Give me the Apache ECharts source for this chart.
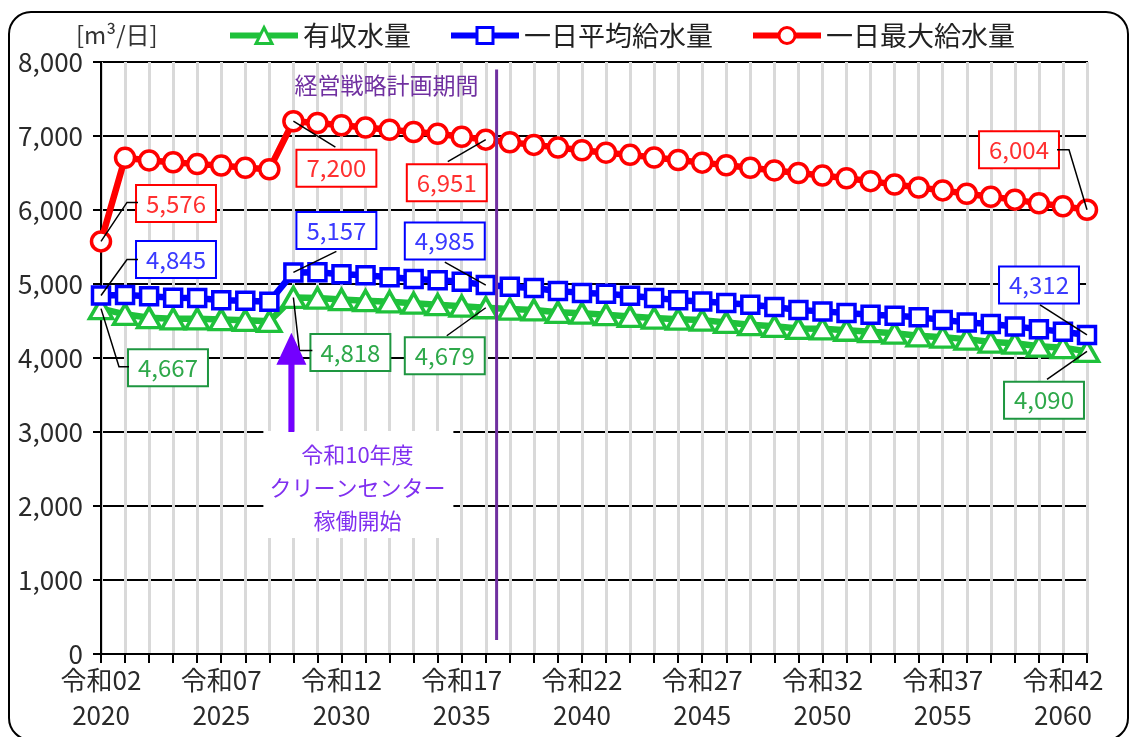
<!DOCTYPE html>
<html>
<head>
<meta charset="utf-8">
<script src="https://cdn.jsdelivr.net/npm/echarts@6/dist/echarts.min.js"></script>
<style>
  html, body { margin: 0; padding: 0; background: #fff; }
  #chart { width: 1136px; height: 737px; }
</style>
</head>
<body>
<div id="chart"></div>
<script>
// Fiscal years 2020 (令和02) to 2061 (令和43)
const years = [2020, 2021, 2022, 2023, 2024, 2025, 2026, 2027, 2028, 2029,
               2030, 2031, 2032, 2033, 2034, 2035, 2036, 2037, 2038, 2039,
               2040, 2041, 2042, 2043, 2044, 2045, 2046, 2047, 2048, 2049,
               2050, 2051, 2052, 2053, 2054, 2055, 2056, 2057, 2058, 2059,
               2060, 2061];

// 有収水量 [m3/日]
const revenueWater = [4667, 4590, 4545, 4530, 4530, 4520, 4510, 4495, 4818, 4810,
                      4790, 4775, 4760, 4740, 4720, 4700, 4679, 4662, 4650, 4618,
                      4605, 4585, 4562, 4540, 4525, 4512, 4480, 4450, 4428, 4400,
                      4395, 4375, 4355, 4335, 4300, 4282, 4255, 4215, 4200, 4160,
                      4140, 4090];

// 一日平均給水量 [m3/日]
const avgSupply = [4845, 4850, 4835, 4815, 4810, 4780, 4775, 4760, 5157, 5158,
                   5133, 5118, 5090, 5068, 5052, 5030, 4985, 4962, 4945, 4905,
                   4880, 4868, 4842, 4812, 4782, 4765, 4742, 4720, 4690, 4650,
                   4630, 4608, 4585, 4570, 4550, 4515, 4480, 4460, 4425, 4390,
                   4355, 4312];

// 一日最大給水量 [m3/日]
const maxSupply = [5576, 6705, 6670, 6645, 6620, 6600, 6570, 6550, 7200, 7175,
                   7145, 7115, 7085, 7055, 7030, 6990, 6951, 6915, 6880, 6845,
                   6808, 6775, 6745, 6710, 6675, 6640, 6605, 6570, 6535, 6500,
                   6465, 6428, 6390, 6345, 6305, 6265, 6220, 6180, 6140, 6090,
                   6050, 6004];

// y axis range
const yMin = 0, yMax = 8000, yStep = 1000;

// end of the management strategy period (between 令和18 and 令和19)
const planEndPos = 16.45;
// cleaning centre start year index (令和10)
const centreStartIdx = 8;

const FONT = '"Noto Sans CJK JP", "Noto Sans", sans-serif';
const fmt = v => Number(v).toLocaleString('en-US');

const GREEN = '#1fc13b', BLUE = '#0000ff', RED = '#ff0000';

// label box offsets (px from the point) and leader line bends
const labelCfg = {
  rev: {
    offsets: {0: [67, 59], 8: [57, 55], 16: [-41, 48], 41: [-43, 49]},
    leaders: {0: [[18, 58], [28, 58]], 8: [[6, 53], [19, 53]], 16: [[-39, 28]], 41: [[-40, 28]]}
  },
  avg: {
    offsets: {0: [75, -36], 8: [43, -42], 16: [-41, -44], 41: [-48, -50]},
    leaders: {0: [[26, -36], [37, -36]], 8: [[43, -21]], 16: [[-41, -23]], 41: [[-47, -30]]}
  },
  max: {
    offsets: {0: [75, -38], 8: [43, 47], 16: [-39, 43], 41: [-68, -60]},
    leaders: {0: [[26, -39], [37, -39]], 8: [[42, 26]], 16: [[-38, 22]], 41: [[-18, -60], [-30, -60]]}
  }
};

function makeSeries(name, data, color, symbol, symbolSize, textColor, borderColor, cfg, z) {
  return {
    name: name,
    type: 'line',
    z: z,
    data: data.map((v, i) => (i in cfg.offsets)
      ? {value: v, label: {show: true, offset: cfg.offsets[i]}}
      : v),
    symbol: symbol,
    symbolSize: symbolSize,
    showAllSymbol: true,
    lineStyle: {color: color, width: 6.5},
    itemStyle: {color: '#fff', borderColor: color, borderWidth: 3.5},
    label: {
      show: false,
      position: 'inside',
      formatter: p => fmt(p.value),
      fontSize: 24,
      lineHeight: 28,
      fontFamily: FONT,
      color: textColor,
      backgroundColor: '#fff',
      borderColor: borderColor,
      borderWidth: 2,
      padding: [4, 9, 3, 9]
    },
    emphasis: {disabled: true},
    animation: false
  };
}

const chart = echarts.init(document.getElementById('chart'));

chart.setOption({
  animation: false,
  backgroundColor: '#fff',
  textStyle: {fontFamily: FONT},
  legend: {
    left: 222,
    top: 17,
    itemWidth: 68,
    itemHeight: 20,
    itemGap: 37,
    lineStyle: {width: 6},
    itemStyle: {borderWidth: 3},
    textStyle: {fontSize: 27, color: '#222', fontFamily: FONT},
    data: ['有収水量', '一日平均給水量', '一日最大給水量']
  },
  grid: {
    left: 101, right: 49, top: 62, bottom: 83,
    show: true, borderColor: '#000', borderWidth: 2
  },
  xAxis: [{
    type: 'category',
    data: years,
    boundaryGap: false,
    axisLine: {lineStyle: {color: '#000', width: 2}},
    axisTick: {show: true, interval: 0, length: 9, lineStyle: {color: '#000', width: 2}},
    axisLabel: {
      interval: 4,
      fontSize: 26,
      lineHeight: 35,
      margin: 9,
      color: '#2a2a2a',
      fontFamily: FONT,
      formatter: v => '令和' + String(Number(v) - 2018).padStart(2, '0') + '\n' + v
    },
    splitLine: {show: true, interval: 0, lineStyle: {color: '#d9d9d9', width: 3}}
  }, {
    type: 'value',
    min: 0, max: years.length - 1,
    show: false,
    splitLine: {show: false}
  }],
  yAxis: {
    type: 'value',
    min: yMin, max: yMax, interval: yStep,
    axisLine: {show: true, lineStyle: {color: '#000', width: 2}},
    axisTick: {show: true, length: 8, lineStyle: {color: '#000', width: 2}},
    axisLabel: {fontSize: 26, margin: 18, color: '#2a2a2a', fontFamily: FONT, formatter: v => fmt(v)},
    splitLine: {show: true, lineStyle: {color: '#000', width: 2}}
  },
  series: [
    makeSeries('有収水量', revenueWater, GREEN, 'triangle', [23, 20], '#2ea84a', '#1e9640', labelCfg.rev, 3),
    makeSeries('一日平均給水量', avgSupply, BLUE, 'rect', 17, '#3a3aff', BLUE, labelCfg.avg, 4),
    makeSeries('一日最大給水量', maxSupply, RED, 'circle', 19, '#ff3030', RED, labelCfg.max, 5),
    {
      name: 'plan-end',
      type: 'line',
      xAxisIndex: 1,
      yAxisIndex: 0,
      data: [[planEndPos, 190], [planEndPos, 7900]],
      symbol: 'none',
      lineStyle: {color: '#7030a0', width: 3},
      silent: true,
      z: 6,
      animation: false
    }
  ]
});

// annotations placed from axis coordinates
const g = [];
const toPx = (i, v) => chart.convertToPixel({gridIndex: 0}, [i, v]);

// rounded outer frame
g.push({type: 'rect', silent: true, z: 20,
  shape: {x: 9, y: 12, width: 1119, height: 728, r: 22},
  style: {fill: 'none', stroke: '#000', lineWidth: 2}});

// unit
g.push({type: 'text', z: 20, x: 76, y: 35,
  style: {text: '[m³/日]', fontSize: 24, fontFamily: FONT, fill: '#333', verticalAlign: 'middle'}});

// leader lines for the value labels
[[revenueWater, labelCfg.rev], [avgSupply, labelCfg.avg], [maxSupply, labelCfg.max]].forEach(([data, cfg]) => {
  Object.keys(cfg.leaders).forEach(k => {
    const i = Number(k);
    const p = toPx(i, data[i]);
    const pts = [p].concat(cfg.leaders[k].map(r => [p[0] + r[0], p[1] + r[1]]));
    g.push({type: 'polyline', z: 10, silent: true,
      shape: {points: pts}, style: {stroke: '#000', lineWidth: 1.5, fill: null}});
  });
});

// plan period caption
const planTop = chart.convertToPixel({xAxisIndex: 1, yAxisIndex: 0}, [planEndPos, 7900]);
g.push({type: 'text', z: 20, x: planTop[0] - 18, y: planTop[1] + 16,
  style: {text: '経営戦略計画期間', fontSize: 23, fontFamily: FONT, fill: '#7030a0',
          align: 'right', verticalAlign: 'middle'}});

// arrow marking the cleaning centre start
const ax = toPx(centreStartIdx, 0)[0] - 2;
const tipY = toPx(centreStartIdx, 4340)[1];
const baseY = toPx(centreStartIdx, 3000)[1];
g.push({type: 'polygon', z: 12, silent: true,
  shape: {points: [[ax, tipY], [ax + 15, tipY + 32], [ax + 3, tipY + 32], [ax + 3, baseY],
                   [ax - 3, baseY], [ax - 3, tipY + 32], [ax - 15, tipY + 32]]},
  style: {fill: '#7300ff'}});

// caption box
g.push({type: 'rect', z: 11, silent: true,
  shape: {x: ax - 28, y: baseY - 1, width: 190, height: 107},
  style: {fill: '#fff'}});
g.push({type: 'text', z: 12, x: ax + 66, y: baseY + 56,
  style: {text: '令和10年度\nクリーンセンター\n稼働開始', fontSize: 22, lineHeight: 33,
          fontFamily: FONT, fill: '#8030f0', align: 'center', verticalAlign: 'middle'}});

chart.setOption({graphic: g});
</script>
</body>
</html>
